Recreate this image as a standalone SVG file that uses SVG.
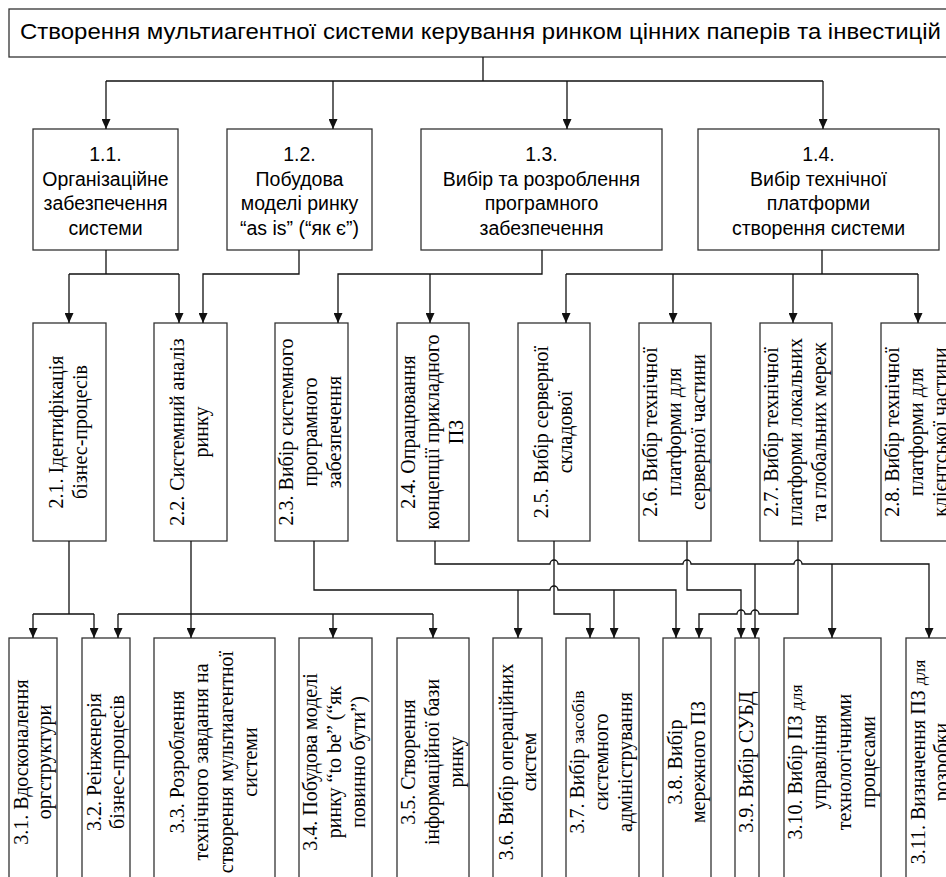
<svg xmlns="http://www.w3.org/2000/svg" width="946" height="877" viewBox="0 0 946 877">
<defs>
<marker id="ah" markerUnits="userSpaceOnUse" markerWidth="10" markerHeight="9" refX="10" refY="4.5" orient="auto"><path d="M0,0 L10,4.5 L0,9 z" fill="#111"/></marker>
<style>
.box{fill:#fff;stroke:#333;stroke-width:1.3}
.ln{fill:none;stroke:#111;stroke-width:1.3}
.ar{fill:none;stroke:#111;stroke-width:1.3;marker-end:url(#ah)}
.t0{font-family:"Liberation Sans",Arial,sans-serif;font-size:22px;fill:#000}
.t1{font-family:"Liberation Sans",Arial,sans-serif;font-size:19.5px;fill:#000;text-anchor:middle}
.t2{font-family:"Liberation Serif","Times New Roman",serif;font-size:20px;fill:#000;text-anchor:middle}
.sm{font-size:17.5px}
</style>
</defs>
<rect width="946" height="877" fill="#fff"/>

<g id="n0"><rect class="box" x="9" y="9" width="950" height="48"/><text class="t0" x="20" y="39" textLength="921" lengthAdjust="spacingAndGlyphs">Створення мультиагентної системи керування ринком цінних паперів та інвестицій</text></g>

<g id="n1_1"><rect class="box" x="33" y="129" width="145" height="121"/><text class="t1"><tspan x="105.5" y="161">1.1.</tspan><tspan x="105.5" y="186">Організаційне</tspan><tspan x="105.5" y="210">забезпечення</tspan><tspan x="105.5" y="235">системи</tspan></text></g>
<g id="n1_2"><rect class="box" x="227" y="129" width="145" height="121"/><text class="t1"><tspan x="299.5" y="161">1.2.</tspan><tspan x="299.5" y="186">Побудова</tspan><tspan x="299.5" y="210">моделі ринку</tspan><tspan x="299.5" y="235">“as is” (“як є”)</tspan></text></g>
<g id="n1_3"><rect class="box" x="421" y="129" width="241" height="121"/><text class="t1"><tspan x="541.5" y="161">1.3.</tspan><tspan x="541.5" y="186">Вибір та розроблення</tspan><tspan x="541.5" y="210">програмного</tspan><tspan x="541.5" y="235">забезпечення</tspan></text></g>
<g id="n1_4"><rect class="box" x="698" y="129" width="241" height="121"/><text class="t1"><tspan x="818.5" y="161">1.4.</tspan><tspan x="818.5" y="186">Вибір технічної</tspan><tspan x="818.5" y="210">платформи</tspan><tspan x="818.5" y="235">створення системи</tspan></text></g>

<g id="n2_1"><rect class="box" x="33" y="323" width="73" height="218"/><text class="t2" transform="translate(69.5,432) rotate(-90)"><tspan x="0" y="-6.5">2.1. Ідентифікація</tspan><tspan x="0" y="17.5">бізнес-процесів</tspan></text></g>
<g id="n2_2"><rect class="box" x="154" y="323" width="73" height="218"/><text class="t2" transform="translate(190.5,432) rotate(-90)"><tspan x="0" y="-6.5">2.2. Системний аналіз</tspan><tspan x="0" y="17.5">ринку</tspan></text></g>
<g id="n2_3"><rect class="box" x="275" y="323" width="73" height="218"/><text class="t2" transform="translate(311.5,432) rotate(-90)"><tspan x="0" y="-18.5">2.3. Вибір системного</tspan><tspan x="0" y="5.5">програмного</tspan><tspan x="0" y="29.5">забезпечення</tspan></text></g>
<g id="n2_4"><rect class="box" x="397" y="323" width="72" height="218"/><text class="t2" transform="translate(433,432) rotate(-90)"><tspan x="0" y="-18.5">2.4. Опрацювання</tspan><tspan x="0" y="5.5">концепції прикладного</tspan><tspan x="0" y="29.5">ПЗ</tspan></text></g>
<g id="n2_5"><rect class="box" x="518" y="323" width="72" height="218"/><text class="t2" transform="translate(554,432) rotate(-90)"><tspan x="0" y="-6.5">2.5. Вибір серверної</tspan><tspan x="0" y="17.5">складової</tspan></text></g>
<g id="n2_6"><rect class="box" x="639" y="323" width="72" height="218"/><text class="t2" transform="translate(675,432) rotate(-90)"><tspan x="0" y="-18.5">2.6. Вибір технічної</tspan><tspan x="0" y="5.5">платформи для</tspan><tspan x="0" y="29.5">серверної частини</tspan></text></g>
<g id="n2_7"><rect class="box" x="760" y="323" width="72" height="218"/><text class="t2" transform="translate(796,432) rotate(-90)"><tspan x="0" y="-18.5">2.7. Вибір технічної</tspan><tspan x="0" y="5.5">платформи локальних</tspan><tspan x="0" y="29.5">та глобальних мереж</tspan></text></g>
<g id="n2_8"><rect class="box" x="881" y="323" width="73" height="218"/><text class="t2" transform="translate(917.5,432) rotate(-90)"><tspan x="0" y="-18.5">2.8. Вибір технічної</tspan><tspan x="0" y="5.5">платформи для</tspan><tspan x="0" y="29.5">клієнтської частини</tspan></text></g>

<g id="n3_1"><rect class="box" x="9" y="638" width="48" height="260"/><text class="t2" transform="translate(33,762) rotate(-90)"><tspan x="0" y="-5">3.1. Вдосконалення</tspan><tspan x="0" y="18">оргструктури</tspan></text></g>
<g id="n3_2"><rect class="box" x="82" y="638" width="48" height="260"/><text class="t2" transform="translate(106,762) rotate(-90)"><tspan x="0" y="-5">3.2. Реінженерія</tspan><tspan x="0" y="18">бізнес-процесів</tspan></text></g>
<g id="n3_3"><rect class="box" x="154" y="638" width="121" height="260"/><text class="t2" transform="translate(214.5,762) rotate(-90)"><tspan x="0" y="-31">3.3. Розроблення</tspan><tspan x="0" y="-6.5">технічного завдання на</tspan><tspan x="0" y="18">створення мультиагентної</tspan><tspan x="0" y="42.5">системи</tspan></text></g>
<g id="n3_4"><rect class="box" x="299" y="638" width="73" height="260"/><text class="t2" transform="translate(335.5,762) rotate(-90)"><tspan x="0" y="-18.5">3.4. Побудова моделі</tspan><tspan x="0" y="5.5">ринку “to be” (“як</tspan><tspan x="0" y="29.5">повинно бути”)</tspan></text></g>
<g id="n3_5"><rect class="box" x="397" y="638" width="72" height="260"/><text class="t2" transform="translate(433,762) rotate(-90)"><tspan x="0" y="-18.5">3.5. Створення</tspan><tspan x="0" y="5.5">інформаційної бази</tspan><tspan x="0" y="29.5">ринку</tspan></text></g>
<g id="n3_6"><rect class="box" x="493" y="638" width="49" height="260"/><text class="t2" transform="translate(517.5,762) rotate(-90)"><tspan x="0" y="-5">3.6. Вибір операційних</tspan><tspan x="0" y="18">систем</tspan></text></g>
<g id="n3_7"><rect class="box" x="566" y="638" width="73" height="260"/><text class="t2" transform="translate(602.5,762) rotate(-90)"><tspan x="0" y="-18.5">3.7. Вибір <tspan class="sm">засобів</tspan></tspan><tspan x="0" y="5.5">системного</tspan><tspan x="0" y="29.5">адміністрування</tspan></text></g>
<g id="n3_8"><rect class="box" x="663" y="638" width="48" height="260"/><text class="t2" transform="translate(687,762) rotate(-90)"><tspan x="0" y="-5">3.8. Вибір</tspan><tspan x="0" y="18">мережного ПЗ</tspan></text></g>
<g id="n3_9"><rect class="box" x="735" y="638" width="24" height="260"/><text class="t2" transform="translate(747,762) rotate(-90)"><tspan x="0" y="6">3.9. Вибір СУБД</tspan></text></g>
<g id="n3_10"><rect class="box" x="784" y="638" width="97" height="260"/><text class="t2" transform="translate(832.5,762) rotate(-90)"><tspan x="0" y="-31">3.10. Вибір ПЗ <tspan class="sm">для</tspan></tspan><tspan x="0" y="-6.5">управління</tspan><tspan x="0" y="18">технологічними</tspan><tspan x="0" y="42.5">процесами</tspan></text></g>
<g id="n3_11"><rect class="box" x="906" y="638" width="48" height="260"/><text class="t2" transform="translate(930,762) rotate(-90)"><tspan x="0" y="-5">3.11. Визначення ПЗ <tspan class="sm">для</tspan></tspan><tspan x="0" y="18">розробки</tspan></text></g>

<g id="connectors">
<path class="ln" d="M483,57 V81 M106,81 H823"/>
<path class="ar" d="M106,81 V129"/><path class="ar" d="M333,81 V129"/><path class="ar" d="M567,81 V129"/><path class="ar" d="M823,81 V129"/>

<path class="ln" d="M106,250 V274 M69,274 H179"/>
<path class="ar" d="M69,274 V323"/><path class="ar" d="M179,274 V323"/>
<path class="ar" d="M299,250 V274 H203 V323"/>
<path class="ar" d="M542,250 V274 H338 V323"/><path class="ar" d="M430,274 V323"/>
<path class="ln" d="M822,250 V274 M566,274 H918"/>
<path class="ar" d="M566,274 V323"/><path class="ar" d="M673,274 V323"/><path class="ar" d="M793,274 V323"/><path class="ar" d="M918,274 V323"/>

<path class="ln" d="M69,541 V614 M33,614 H94"/>
<path class="ar" d="M33,614 V638"/><path class="ar" d="M94,614 V638"/>
<path class="ln" d="M191,541 V614 M118,614 H433"/>
<path class="ar" d="M118,614 V638"/><path class="ar" d="M191,614 V638"/><path class="ar" d="M333,614 V638"/><path class="ar" d="M433,614 V638"/>
<path class="ar" d="M314,541 V590 H550 A4,4 0 0 1 558,590 H676 V638"/>
<path class="ar" d="M518,590 V638"/><path class="ar" d="M614,590 V638"/>
<path class="ar" d="M435,541 V564 H550 A4,4 0 0 1 558,564 H683 A4,4 0 0 1 691,564 H794 A4,4 0 0 1 802,564 H929 V638"/>
<path class="ar" d="M755,564 V638"/><path class="ar" d="M832,564 V638"/>
<path class="ar" d="M554,541 V614 H590 V638"/>
<path class="ar" d="M687,541 V590 H741 V638"/>
<path class="ar" d="M798,541 V614 H759 A4,4 0 0 0 751,614 H745 A4,4 0 0 0 737,614 H699 V638"/>
</g>
</svg>
